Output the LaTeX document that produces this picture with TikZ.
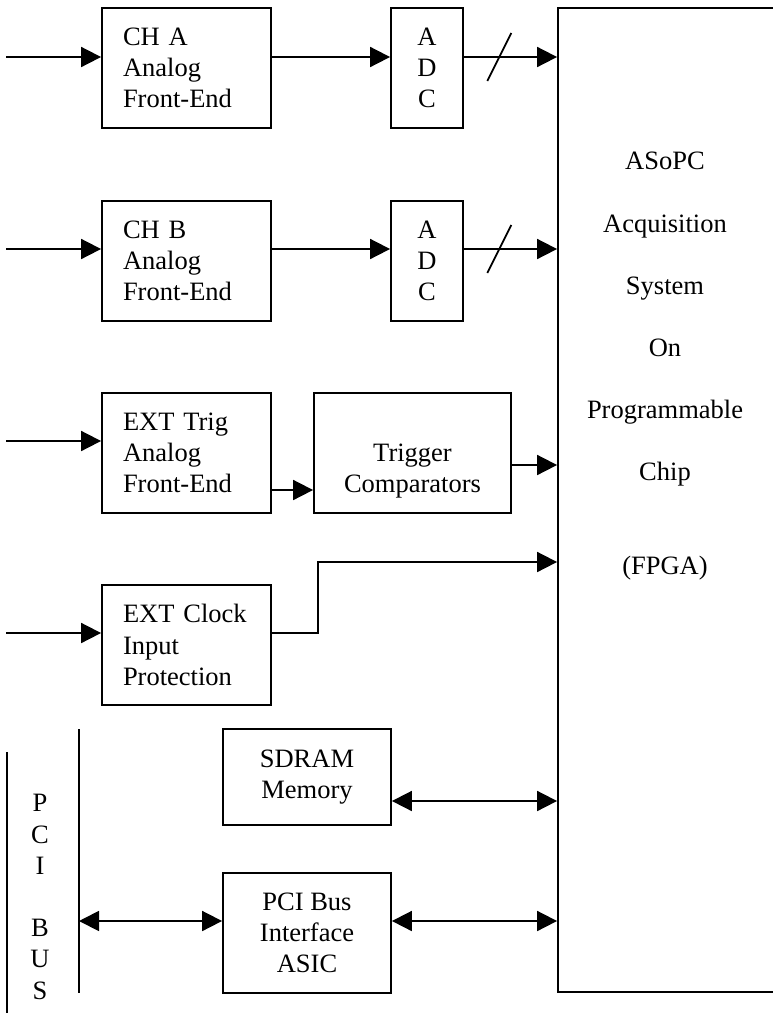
\documentclass[tikz,border=0pt]{standalone}
\usepackage{fontspec}
\setmainfont{Liberation Serif}
\usetikzlibrary{positioning, calc, arrows.meta}

\begin{document}
\begin{tikzpicture}[
    x=0.5pt, y=-0.5pt,
    line width=0.9pt,
    every node/.style={font=\fontsize{13.25}{15.6}\selectfont, inner sep=0pt},
    blk/.style={draw, line width=0.9pt, minimum height=60pt},
    fe/.style={blk, text width=63.5pt, inner xsep=10.5pt, align=left},
    ctr/.style={blk, align=center},
    sig/.style={-{Triangle[length=10pt, width=10pt]}},
    bus/.style={{Triangle[length=10pt, width=10pt]}-{Triangle[length=10pt, width=10pt]}}
  ]
  \useasboundingbox (0,0) rectangle (772,1013);

  % front ends
  \node[fe] (cha) at (186.5,68) {CH A\\Analog\\Front-End};
  \node[fe] (chb) at (186.5,261) {CH B\\Analog\\Front-End};
  \node[fe] (trg) at (186.5,453) {EXT Trig\\Analog\\Front-End};
  \node[fe] (clk) at (186.5,645) {EXT Clock\\Input\\Protection};

  % converters, memory, bus interface
  \node[ctr, minimum width=36pt] (adca) at (427,68) {A\\D\\C};
  \node[ctr, minimum width=36pt] (adcb) at (427,261) {A\\D\\C};
  \node[ctr, minimum width=98.5pt] (cmp) at (412.5,453) {\strut\\Trigger\\Comparators};
  \node[ctr, minimum width=84pt, minimum height=48pt] (sdram) at (307,777) {SDRAM\\Memory};
  \node[ctr, minimum width=84pt] (pcif) at (307,933) {PCI Bus\\Interface\\ASIC};

  % fpga
  \node[blk, minimum width=108.5pt, minimum height=492pt] (fpga) at (666.5,500) {};
  \node[align=center] (fpgatxt) at (665,366)
    {ASoPC\\[15.5pt]Acquisition\\[15.5pt]System\\[15.5pt]On\\[15.5pt]Programmable\\[15.5pt]Chip\\[31pt](FPGA)};

  % pci bus
  \coordinate (busla) at (7,752);
  \coordinate (buslb) at (7,1020);
  \coordinate (busra) at (79,729);
  \coordinate (busrb) at (79,993);
  \draw (busla) -- (buslb);
  \draw (busra) -- (busrb);
  \node[align=center] (pcibus) at (40,897) {P\\C\\I\\[15.6pt]B\\U\\S};

  % signal rows
  \coordinate (ina) at (6,57);
  \coordinate (inb) at (6,249);
  \coordinate (intr) at (6,441);
  \coordinate (inc) at (6,633);
  \coordinate (tro) at (0,490);
  \coordinate (cmo) at (0,465);
  \coordinate (clkup) at (318,562);
  \coordinate (mem) at (0,801);
  \coordinate (pci) at (79,921);

  \draw[sig] (ina) -- (ina -| cha.west);
  \draw[sig] (ina -| cha.east) -- (ina -| adca.west);
  \draw[sig] (ina -| adca.east) -- coordinate[pos=0.38] (sla) (ina -| fpga.west);
  \draw ([shift={(-12,24)}]sla) -- ([shift={(12,-24)}]sla);

  \draw[sig] (inb) -- (inb -| chb.west);
  \draw[sig] (inb -| chb.east) -- (inb -| adcb.west);
  \draw[sig] (inb -| adcb.east) -- coordinate[pos=0.38] (slb) (inb -| fpga.west);
  \draw ([shift={(-12,24)}]slb) -- ([shift={(12,-24)}]slb);

  \draw[sig] (intr) -- (intr -| trg.west);
  \draw[sig] (tro -| trg.east) -- (tro -| cmp.west);
  \draw[sig] (cmo -| cmp.east) -- (cmo -| fpga.west);

  \draw[sig] (inc) -- (inc -| clk.west);
  \draw[sig] (inc -| clk.east) -| (clkup) -- (clkup -| fpga.west);

  \draw[bus] (mem -| sdram.east) -- (mem -| fpga.west);
  \draw[bus] (pci) -- (pci -| pcif.west);
  \draw[bus] (pci -| pcif.east) -- (pci -| fpga.west);
\end{tikzpicture}
\end{document}
